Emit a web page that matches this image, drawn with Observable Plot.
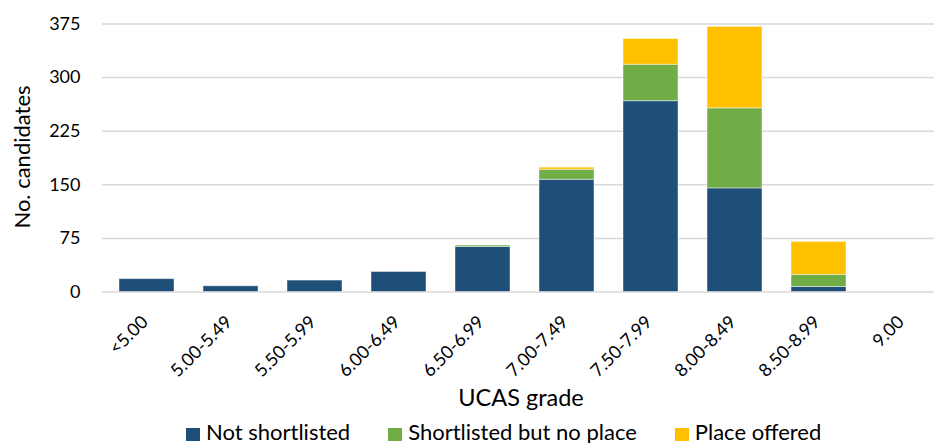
<!DOCTYPE html>
<html>
<head>
<meta charset="utf-8">
<script src="https://cdn.jsdelivr.net/npm/d3@7"></script>
<script src="https://cdn.jsdelivr.net/npm/@observablehq/plot@0.6"></script>
<style>
  html, body { margin: 0; padding: 0; background: white; overflow: hidden; }
  #wrap { width: 934px; font-family: Lato, "Noto Sans", sans-serif; }
  .legend { display: flex; align-items: center; padding-left: 186px; gap: 38px; margin-top: 1px; font-size: 22px; line-height: 22px; color: #000; white-space: nowrap; }
  .legend .item { display: flex; align-items: center; gap: 6px; }
  .legend .sw { width: 14px; height: 13px; display: inline-block; position: relative; top: 2px; }
</style>
</head>
<body>
<div id="wrap"></div>
<script>
const grades = ["<5.00","5.00-5.49","5.50-5.99","6.00-6.49","6.50-6.99","7.00-7.49","7.50-7.99","8.00-8.49","8.50-8.99","9.00"];
const statuses = ["Not shortlisted","Shortlisted but no place","Place offered"];
const colors = ["#1f4e79","#70ad47","#ffc000"];
const notShortlisted = [18, 8, 16, 28, 63, 157, 267, 145, 7, 0];
const shortlistedNoPlace = [0, 0, 0, 0, 2, 14, 51, 112, 17, 0];
const placeOffered = [0, 0, 0, 0, 0, 3, 36, 114, 46, 0];
const yTicks = [0, 75, 150, 225, 300, 375];

const series = [notShortlisted, shortlistedNoPlace, placeOffered];
const data = [];
grades.forEach((g, i) => {
  statuses.forEach((s, j) => data.push({grade: g, status: s, value: series[j][i]}));
});

const plot = Plot.plot({
  width: 934,
  height: 420,
  marginLeft: 102,
  marginRight: 0,
  marginTop: 23.5,
  marginBottom: 128.5,
  style: {fontFamily: "Lato, 'Noto Sans', sans-serif", color: "#000", background: "white", overflow: "visible"},
  x: {type: "band", domain: grades, range: [102.25, 947.25], paddingInner: 0.34, paddingOuter: 0.17, axis: null},
  y: {domain: [0, 375]},
  color: {domain: statuses, range: colors},
  marks: [
    Plot.ruleY(yTicks, {stroke: "#d9d9d9", strokeWidth: 1.5}),
    Plot.barY(data, {x: "grade", y: "value", fill: "status", stroke: "white", strokeOpacity: 0.45, strokeWidth: 1}),
    Plot.axisY({ticks: yTicks, tickSize: 0, tickPadding: 22, fontSize: 18, label: null}),
    Plot.text(grades, {x: d => d, y: () => 0, rotate: -45, textAnchor: "end", lineAnchor: "middle", dx: -2, dy: 27, fontSize: 18}),
    Plot.text(["No. candidates"], {frameAnchor: "left", textAnchor: "middle", rotate: -90, dx: -80, dy: -1, fontSize: 22}),
    Plot.text(["UCAS grade"], {frameAnchor: "bottom", dx: 2.5, dy: 114, fontSize: 23.5})
  ]
});

const wrap = document.getElementById("wrap");
wrap.appendChild(plot);

const legend = document.createElement("div");
legend.className = "legend";
statuses.forEach((s, j) => {
  const item = document.createElement("div");
  item.className = "item";
  const sw = document.createElement("span");
  sw.className = "sw";
  sw.style.background = colors[j];
  const t = document.createElement("span");
  t.textContent = s;
  item.appendChild(sw);
  item.appendChild(t);
  legend.appendChild(item);
});
wrap.appendChild(legend);
</script>
</body>
</html>
